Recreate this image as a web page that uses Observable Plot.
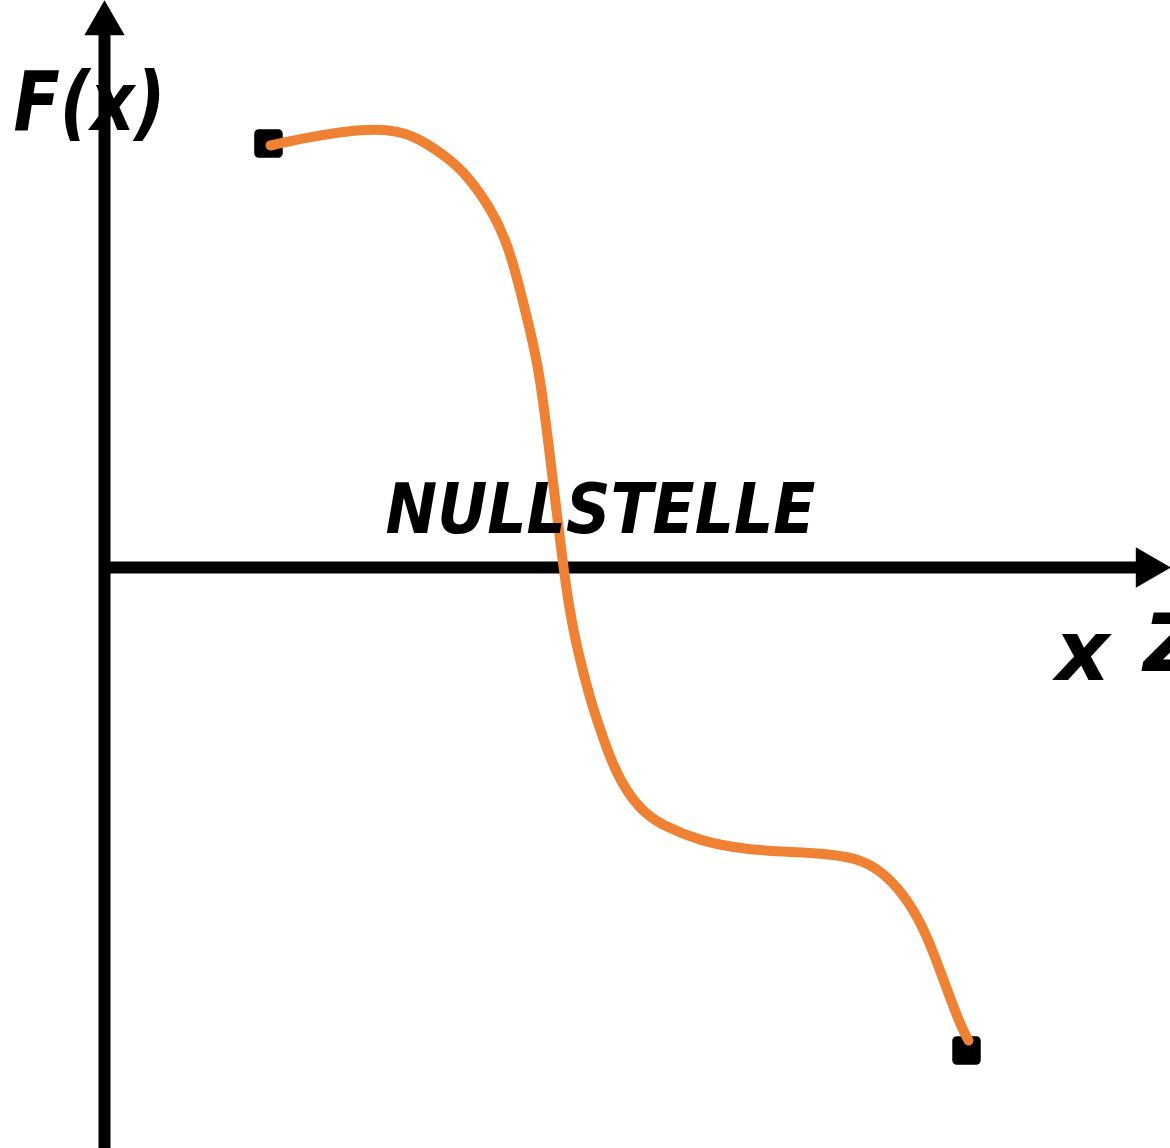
<!DOCTYPE html>
<html>
<head>
<meta charset="utf-8">
<script src="https://cdn.jsdelivr.net/npm/d3@7"></script>
<script src="https://cdn.jsdelivr.net/npm/@observablehq/plot@0.6"></script>
<style>
  html, body { margin: 0; padding: 0; background: #fff; overflow: hidden; }
  #chart svg { display: block; }
</style>
</head>
<body>
<div id="chart"></div>
<script>
// Curve f(x) (x, y in axis units, origin at the axes' crossing)
const curveX = [1.66, 2.16, 2.76, 3.09, 3.43, 3.61, 3.86, 4.03, 4.14, 4.24, 4.33, 4.39, 4.46, 4.52, 4.58, 4.65, 4.73, 4.86, 4.96, 5.09, 5.26, 5.43, 5.59, 5.93, 6.43, 7.09, 7.53, 7.76, 7.99, 8.21, 8.41, 8.56, 8.64];
const curveY = [4.22, 4.33, 4.40, 4.33, 4.10, 3.94, 3.60, 3.24, 2.84, 2.44, 2.04, 1.64, 1.07, 0.57, 0.07, -0.43, -0.83, -1.33, -1.63, -2.00, -2.30, -2.48, -2.58, -2.73, -2.83, -2.85, -2.90, -3.03, -3.26, -3.63, -4.18, -4.58, -4.73];
// End points of the domain
const endX = [1.64, 8.62];
const endY = [4.24, -4.83];
// Axis extents
const xDomain = [-1.04, 10.66];
const yDomain = [-5.81, 5.67];
const xAxisEnd = 10.35;
const yAxisEnd = 5.32;
// Labels
const labelText = ["F(x)", "NULLSTELLE", "x", "Z"];
const labelX = [-0.15, 4.96, 9.78, 10.39];
const labelY = [4.64, 0.57, -0.86, -0.78];

const curve = curveX.map((x, i) => ({x, y: curveY[i]}));
const ends = endX.map((x, i) => ({x, y: endY[i]}));
const labels = labelText.map((t, i) => ({t, x: labelX[i], y: labelY[i]}));
const arrows = [
  {x: 0, y: 5.44, rot: 0},
  {x: 10.43, y: 0, rot: 90}
];

const font = "'DejaVu Sans', 'Liberation Sans', sans-serif";
const textStyle = {x: "x", y: "y", text: "t", fontWeight: "bold", fontStyle: "italic", fill: "#000", fontFamily: font};

const chart = Plot.plot({
  width: 1170,
  height: 1148,
  margin: 0,
  x: {domain: xDomain, axis: null},
  y: {domain: yDomain, axis: null},
  style: {background: "#fff", overflow: "hidden"},
  marks: [
    Plot.ruleX([0], {y1: yDomain[0], y2: yAxisEnd, stroke: "#000", strokeWidth: 12}),
    Plot.ruleY([0], {x1: 0, x2: xAxisEnd, stroke: "#000", strokeWidth: 12}),
    Plot.dot(arrows, {x: "x", y: "y", symbol: "triangle", r: 15, fill: "#000", stroke: "none", rotate: "rot"}),
    Plot.dot(ends, {x: "x", y: "y", symbol: "square", r: 11, fill: "#000", stroke: "#000", strokeWidth: 9, strokeLinejoin: "round"}),
    Plot.line(curve, {x: "x", y: "y", curve: "basis", stroke: "#EE8133", strokeWidth: 10}),
    Plot.text(labels.slice(0, 1), {...textStyle, fontSize: 82, textAnchor: "middle"}),
    Plot.text(labels.slice(1, 2), {...textStyle, fontSize: 70, textAnchor: "middle"}),
    Plot.text(labels.slice(2, 3), {...textStyle, fontSize: 84, textAnchor: "middle"}),
    Plot.text(labels.slice(3, 4), {...textStyle, fontSize: 80, textAnchor: "start"})
  ]
});

// Fit the words to the widths they have in the picture
const texts = d3.select(chart).selectAll("text");
texts.filter(function() { return this.textContent === "NULLSTELLE"; })
  .attr("textLength", 430).attr("lengthAdjust", "spacingAndGlyphs");
texts.filter(function() { return this.textContent === "F(x)"; })
  .attr("textLength", 152).attr("lengthAdjust", "spacingAndGlyphs");

document.getElementById("chart").appendChild(chart);
</script>
</body>
</html>
